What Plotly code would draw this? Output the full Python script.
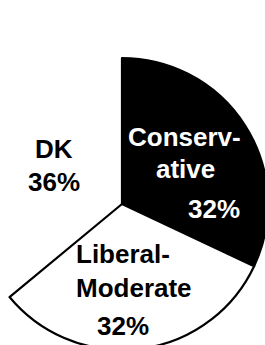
import plotly.graph_objects as go

# ---- data ----
labels = ["DK", "Conservative", "Liberal-Moderate"]
values = [36, 32, 32]
label_lines = [["DK"], ["Conserv-", "ative"], ["Liberal-", "Moderate"]]
slice_colors = ["white", "black", "white"]
text_colors = ["black", "white", "black"]

# ---- geometry (pixels in the 265x345 view) ----
W, H = 292, 350
SHIFT = 24          # figure is shifted this far left of the window
PIE_TOP = 58        # top of pie in window px


def px(sx):
    return (sx + SHIFT) / W


def py(sy):
    return 1 - sy / H


FONT = "Liberation Sans, Arial, sans-serif"
FS = 26

fig = go.Figure(
    go.Pie(
        labels=labels,
        values=values,
        sort=False,
        direction="clockwise",
        rotation=-129.6,
        marker=dict(colors=slice_colors,
                    line=dict(color="black", width=[0, 2.2, 2.2])),
        textinfo="none",
        hoverinfo="none",
        showlegend=False,
        domain=dict(x=[0, 1], y=[0, (H - PIE_TOP) / H]),
    )
)

# label placements: (label line centres), percentage centre
name_pos = {
    "DK": [(54, 148.5)],
    "Conservative": [(184.5, 137.5), (185, 169)],
    "Liberal-Moderate": [(74, 254), (74, 288)],
}
pct_pos = {
    "DK": (53.5, 182),
    "Conservative": (214, 209),
    "Liberal-Moderate": (123, 325.5),
}
anchor = {"DK": "center", "Conservative": "center", "Liberal-Moderate": "left"}

ann = []
for lab, lines, v, tc in zip(labels, label_lines, values, text_colors):
    for line, (sx, sy) in zip(lines, name_pos[lab]):
        ann.append(dict(text=line, x=px(sx), y=py(sy), xref="paper", yref="paper",
                        xanchor=anchor[lab], yanchor="middle", showarrow=False,
                        font=dict(family=FONT, size=FS, color=tc, weight="bold")))
    sx, sy = pct_pos[lab]
    ann.append(dict(text=f"{v}%", x=px(sx), y=py(sy), xref="paper", yref="paper",
                    xanchor="center", yanchor="middle", showarrow=False,
                    font=dict(family=FONT, size=FS, color=tc, weight="bold")))

fig.update_layout(
    width=W, height=H,
    margin=dict(l=0, r=0, t=0, b=0),
    paper_bgcolor="white",
    plot_bgcolor="white",
    annotations=ann,
    font=dict(family=FONT, size=FS),
)

post = (
    "var gd=document.getElementById('{plot_id}');"
    "document.documentElement.style.overflow='hidden';"
    "document.body.style.margin='0';"
    "document.body.style.overflow='hidden';"
    "gd.style.position='absolute';"
    "gd.style.left='-" + str(SHIFT) + "px';"
    "gd.style.top='0px';"
)

fig.write_html("out.html", post_script=post, config={"displayModeBar": False})
